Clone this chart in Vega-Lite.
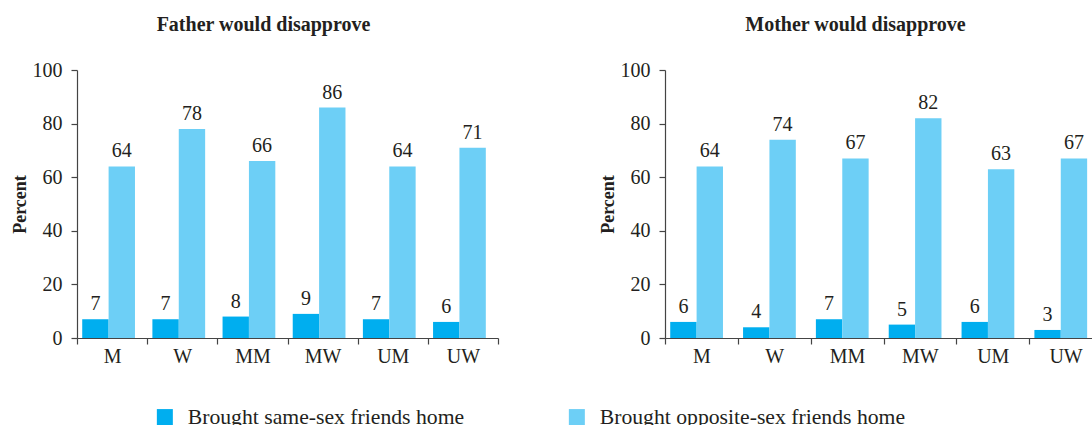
{
  "$schema": "https://vega.github.io/schema/vega-lite/v6.json",
  "padding": {"left": 11, "top": 15, "right": 0, "bottom": 0},
  "background": "white",
  "config": {
    "font": "Liberation Serif",
    "view": {"stroke": null},
    "axis": {
      "labelFont": "Liberation Serif",
      "labelFontSize": 20,
      "labelColor": "#231f20",
      "domainColor": "#444444",
      "tickColor": "#444444",
      "domainWidth": 1.2,
      "tickWidth": 1.2,
      "grid": false,
      "titleFont": "Liberation Serif",
      "titleFontSize": 18,
      "titleFontWeight": "bold",
      "titleColor": "#231f20"
    },
    "title": {"font": "Liberation Serif", "fontSize": 20, "fontWeight": "bold", "color": "#231f20"}
  },
  "datasets": {
    "d": [
      {"parent": "Father", "group": "M", "series": "Brought same-sex friends home", "value": 7},
      {"parent": "Father", "group": "W", "series": "Brought same-sex friends home", "value": 7},
      {"parent": "Father", "group": "MM", "series": "Brought same-sex friends home", "value": 8},
      {"parent": "Father", "group": "MW", "series": "Brought same-sex friends home", "value": 9},
      {"parent": "Father", "group": "UM", "series": "Brought same-sex friends home", "value": 7},
      {"parent": "Father", "group": "UW", "series": "Brought same-sex friends home", "value": 6},
      {"parent": "Father", "group": "M", "series": "Brought opposite-sex friends home", "value": 64},
      {"parent": "Father", "group": "W", "series": "Brought opposite-sex friends home", "value": 78},
      {"parent": "Father", "group": "MM", "series": "Brought opposite-sex friends home", "value": 66},
      {"parent": "Father", "group": "MW", "series": "Brought opposite-sex friends home", "value": 86},
      {"parent": "Father", "group": "UM", "series": "Brought opposite-sex friends home", "value": 64},
      {"parent": "Father", "group": "UW", "series": "Brought opposite-sex friends home", "value": 71},
      {"parent": "Mother", "group": "M", "series": "Brought same-sex friends home", "value": 6},
      {"parent": "Mother", "group": "W", "series": "Brought same-sex friends home", "value": 4},
      {"parent": "Mother", "group": "MM", "series": "Brought same-sex friends home", "value": 7},
      {"parent": "Mother", "group": "MW", "series": "Brought same-sex friends home", "value": 5},
      {"parent": "Mother", "group": "UM", "series": "Brought same-sex friends home", "value": 6},
      {"parent": "Mother", "group": "UW", "series": "Brought same-sex friends home", "value": 3},
      {"parent": "Mother", "group": "M", "series": "Brought opposite-sex friends home", "value": 64},
      {"parent": "Mother", "group": "W", "series": "Brought opposite-sex friends home", "value": 74},
      {"parent": "Mother", "group": "MM", "series": "Brought opposite-sex friends home", "value": 67},
      {"parent": "Mother", "group": "MW", "series": "Brought opposite-sex friends home", "value": 82},
      {"parent": "Mother", "group": "UM", "series": "Brought opposite-sex friends home", "value": 63},
      {"parent": "Mother", "group": "UW", "series": "Brought opposite-sex friends home", "value": 67}
    ]
  },
  "spacing": 100,
  "hconcat": [
    {
      "title": {"text": "Father would disapprove", "dx": -24, "offset": 25},
      "width": 421,
      "height": 268,
      "data": {"name": "d"},
      "transform": [{"filter": "datum.parent == 'Father'"}],
      "encoding": {
        "x": {"field": "group", "type": "nominal", "sort": ["M", "W", "MM", "MW", "UM", "UW"],
              "scale": {"paddingInner": 0, "paddingOuter": 0},
              "axis": {"title": null, "labelAngle": 0, "tickBand": "extent", "tickSize": 6, "labelPadding": 2}},
        "xOffset": {"field": "series", "type": "nominal", "sort": ["Brought same-sex friends home", "Brought opposite-sex friends home"],
                    "scale": {"paddingInner": 0, "paddingOuter": 0.33, "align": 0.3}},
        "y": {"field": "value", "type": "quantitative", "scale": {"domain": [0, 100], "nice": false},
              "axis": {"title": "Percent", "values": [0, 20, 40, 60, 80, 100], "tickSize": 6, "labelPadding": 9, "titlePadding": 3}}
      },
      "layer": [
        {"mark": {"type": "bar"},
         "encoding": {"color": {"field": "series", "type": "nominal",
            "scale": {"domain": ["Brought same-sex friends home", "Brought opposite-sex friends home"], "range": ["#00aeef", "#6dcff6"]},
            "legend": {"orient": "none", "legendX": 77, "legendY": 336, "direction": "horizontal", "title": null,
                       "symbolType": "square", "symbolSize": 256, "symbolStrokeWidth": 0, "symbolOpacity": 1,
                       "labelFont": "Liberation Serif", "labelFontSize": 21.7, "labelColor": "#231f20", "labelOffset": 12,
                       "columnPadding": 101, "labelLimit": 400}}}},
        {"mark": {"type": "text", "baseline": "bottom", "dy": -5, "fontSize": 20, "color": "#231f20", "font": "Liberation Serif"},
         "encoding": {"text": {"field": "value", "type": "quantitative"}}}
      ]
    },
    {
      "title": {"text": "Mother would disapprove", "dx": -28, "offset": 25},
      "width": 437,
      "height": 268,
      "data": {"name": "d"},
      "transform": [{"filter": "datum.parent == 'Mother'"}],
      "encoding": {
        "x": {"field": "group", "type": "nominal", "sort": ["M", "W", "MM", "MW", "UM", "UW"],
              "scale": {"paddingInner": 0, "paddingOuter": 0},
              "axis": {"title": null, "labelAngle": 0, "tickBand": "extent", "tickSize": 6, "labelPadding": 2}},
        "xOffset": {"field": "series", "type": "nominal", "sort": ["Brought same-sex friends home", "Brought opposite-sex friends home"],
                    "scale": {"paddingInner": 0, "paddingOuter": 0.33, "align": 0.3}},
        "y": {"field": "value", "type": "quantitative", "scale": {"domain": [0, 100], "nice": false},
              "axis": {"title": "Percent", "values": [0, 20, 40, 60, 80, 100], "tickSize": 6, "labelPadding": 9, "titlePadding": 3}}
      },
      "layer": [
        {"mark": {"type": "bar"},
         "encoding": {"color": {"field": "series", "type": "nominal",
            "scale": {"domain": ["Brought same-sex friends home", "Brought opposite-sex friends home"], "range": ["#00aeef", "#6dcff6"]},
            "legend": null}}},
        {"mark": {"type": "text", "baseline": "bottom", "dy": -5, "fontSize": 20, "color": "#231f20", "font": "Liberation Serif"},
         "encoding": {"text": {"field": "value", "type": "quantitative"}}}
      ]
    }
  ]
}
